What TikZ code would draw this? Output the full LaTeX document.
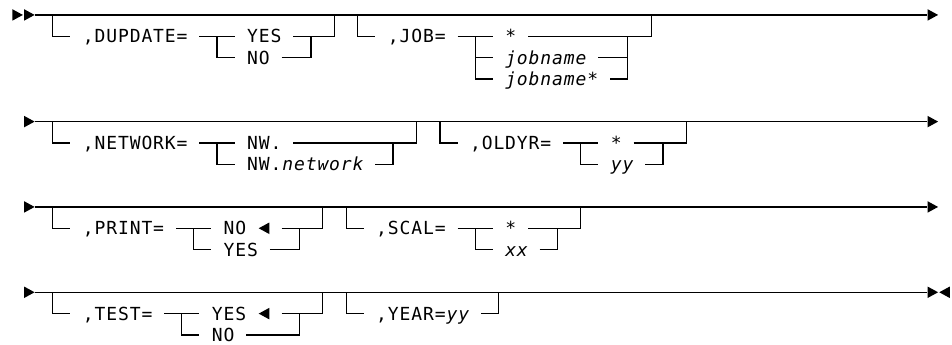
\documentclass[tikz,border=0pt]{standalone}
\usepackage{fontspec}
\newfontfamily\railfont{DejaVu Sans Mono}

% one character per grid cell
\def\cells#1{\cellsnext#1\relax}
\def\cellsnext#1{\ifx\relax#1\else\makebox[8.8pt]{#1}\expandafter\cellsnext\fi}

\tikzset{
  rail/.style={line width=0.9pt, line join=miter},
  txt/.style={anchor=base west, inner sep=0pt, font={\railfont\fontsize{13.5pt}{15pt}\selectfont}},
}

\begin{document}
\begin{tikzpicture}[x=8.8pt, y=-16pt]
		\useasboundingbox (0,-0.7) rectangle (81.136,15.425);

		\newcommand\railR[2]{\fill (#1,#2) ++(-0.45,-0.27) -- ++(0.9,0.27) -- ++(-0.9,0.27) -- cycle;}
		\newcommand\railL[2]{\fill (#1,#2) ++(0.45,-0.27) -- ++(-0.9,0.27) -- ++(0.9,0.27) -- cycle;}

		% main lines
		\coordinate (r1s) at (3,0);  \coordinate (r1e) at (79,0);
		\coordinate (r2s) at (3,5);  \coordinate (r2e) at (79,5);
		\coordinate (r3s) at (3,9);  \coordinate (r3e) at (79,9);
		\coordinate (r4s) at (3,13); \coordinate (r4e) at (79,13);
		\draw[rail] (r1s) -- (r1e);
		\draw[rail] (r2s) -- (r2e);
		\draw[rail] (r3s) -- (r3e);
		\draw[rail] (r4s) -- (r4e);
		\railR{1.5}{0} \railR{2.5}{0} \railR{79.5}{0}
		\railR{2.5}{5} \railR{79.5}{5}
		\railR{2.5}{9} \railR{79.5}{9}
		\railR{2.5}{13} \railR{79.5}{13} \railL{80.5}{13}

		% ,DUPDATE=
		\node[txt] (dupdate) at (7,1.3) {\cells{,DUPDATE=}};
		\node[txt] (dupyes) at (21,1.3) {\cells{YES}};
		\node[txt] (dupno) at (21,2.3) {\cells{NO}};
		\draw[rail] (4.5,0) -- (4.5,1) -- (6,1);
		\draw[rail] (17,1) -- (20,1);
		\draw[rail] (18.5,1) -- (18.5,2) -- (20,2);
		\draw[rail] (25,1) -- (28.5,1) -- (28.5,0);
		\draw[rail] (24,2) -- (26.5,2) -- (26.5,1);

		% ,JOB=
		\node[txt] (job) at (33,1.3) {\cells{,JOB=}};
		\node[txt] (jobstar) at (43,1.3) {\cells{*}};
		\node[txt] (jobname) at (43,2.3) {\itshape\cells{jobname}};
		\node[txt] (jobnamestar) at (43,3.3) {\itshape\cells{jobname*}};
		\draw[rail] (30.5,0) -- (30.5,1) -- (32,1);
		\draw[rail] (39,1) -- (42,1);
		\draw[rail] (40.5,1) -- (40.5,3) -- (42,3);
		\draw[rail] (40.5,2) -- (42,2);
		\draw[rail] (45,1) -- (55.5,1) -- (55.5,0);
		\draw[rail] (51,2) -- (53.5,2);
		\draw[rail] (52,3) -- (53.5,3) -- (53.5,1);

		% ,NETWORK=
		\node[txt] (network) at (7,6.3) {\cells{,NETWORK=}};
		\node[txt] (nw) at (21,6.3) {\cells{NW.}};
		\node[txt] (nwnet) at (21,7.3) {\cells{NW.}\itshape\cells{network}};
		\draw[rail] (4.5,5) -- (4.5,6) -- (6,6);
		\draw[rail] (17,6) -- (20,6);
		\draw[rail] (18.5,6) -- (18.5,7) -- (20,7);
		\draw[rail] (25,6) -- (35.5,6) -- (35.5,5);
		\draw[rail] (32,7) -- (33.5,7) -- (33.5,6);

		% ,OLDYR=
		\node[txt] (oldyr) at (40,6.3) {\cells{,OLDYR=}};
		\node[txt] (oldstar) at (52,6.3) {\cells{*}};
		\node[txt] (oldyy) at (52,7.3) {\itshape\cells{yy}};
		\draw[rail] (37.5,5) -- (37.5,6) -- (39,6);
		\draw[rail] (48,6) -- (51,6);
		\draw[rail] (49.5,6) -- (49.5,7) -- (51,7);
		\draw[rail] (54,6) -- (58.5,6) -- (58.5,5);
		\draw[rail] (55,7) -- (56.5,7) -- (56.5,6);

		% ,PRINT=
		\node[txt] (print) at (7,10.3) {\cells{,PRINT=}};
		\node[txt] (prno) at (19,10.3) {\cells{NO}};
		\node[txt] (pryes) at (19,11.3) {\cells{YES}};
		\railL{22.5}{10}
		\draw[rail] (4.5,9) -- (4.5,10) -- (6,10);
		\draw[rail] (15,10) -- (18,10);
		\draw[rail] (16.5,10) -- (16.5,11) -- (18,11);
		\draw[rail] (24,10) -- (27.5,10) -- (27.5,9);
		\draw[rail] (23,11) -- (25.5,11) -- (25.5,10);

		% ,SCAL=
		\node[txt] (scal) at (32,10.3) {\cells{,SCAL=}};
		\node[txt] (scalstar) at (43,10.3) {\cells{*}};
		\node[txt] (scalxx) at (43,11.3) {\itshape\cells{xx}};
		\draw[rail] (29.5,9) -- (29.5,10) -- (31,10);
		\draw[rail] (39,10) -- (42,10);
		\draw[rail] (40.5,10) -- (40.5,11) -- (42,11);
		\draw[rail] (45,10) -- (49.5,10) -- (49.5,9);
		\draw[rail] (46,11) -- (47.5,11) -- (47.5,10);

		% ,TEST=
		\node[txt] (test) at (7,14.3) {\cells{,TEST=}};
		\node[txt] (tsyes) at (18,14.3) {\cells{YES}};
		\node[txt] (tsno) at (18,15.3) {\cells{NO}};
		\railL{22.5}{14}
		\draw[rail] (4.5,13) -- (4.5,14) -- (6,14);
		\draw[rail] (14,14) -- (17,14);
		\draw[rail] (15.5,14) -- (15.5,15) -- (17,15);
		\draw[rail] (24,14) -- (27.5,14) -- (27.5,13);
		\draw[rail] (21,15) -- (25.5,15) -- (25.5,14);

		% ,YEAR=
		\node[txt] (year) at (32,14.3) {\cells{,YEAR=}\itshape\cells{yy}};
		\draw[rail] (29.5,13) -- (29.5,14) -- (31,14);
		\draw[rail] (41,14) -- (42.5,14) -- (42.5,13);
	\end{tikzpicture}
\end{document}
